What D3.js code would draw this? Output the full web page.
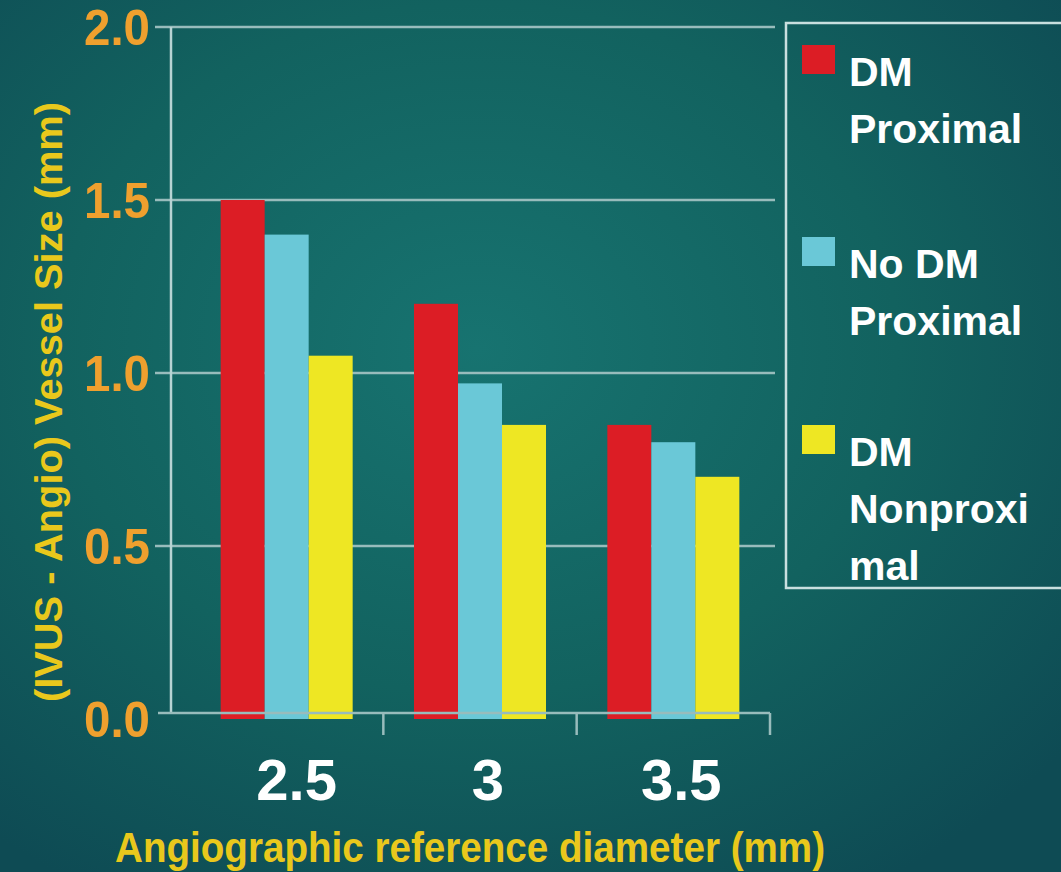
<!DOCTYPE html>
<html>
<head>
<meta charset="utf-8">
<script src="https://cdn.jsdelivr.net/npm/d3@7"></script>
<style>
  html, body { margin: 0; padding: 0; background: #0f5058; }
  svg { display: block; }
  text { font-family: "Liberation Sans", Arial, Helvetica, sans-serif; font-weight: bold; }
</style>
</head>
<body>
<svg id="chart" width="1061" height="872"></svg>
<script>
// Difference between IVUS and angiographic vessel size, by reference diameter
const categories = ["2.5", "3", "3.5"];
const seriesNames = ["DM Proximal", "No DM Proximal", "DM Nonproximal"];
const legendLines = [["DM", "Proximal"], ["No DM", "Proximal"], ["DM", "Nonproxi", "mal"]];
const dmProximal = [1.50, 1.20, 0.85];
const noDmProximal = [1.40, 0.97, 0.80];
const dmNonproximal = [1.05, 0.85, 0.70];
const yTicks = [0, 0.5, 1.0, 1.5, 2.0];
const colors = ["#dc1d25", "#6ac8d7", "#eee723"];

const series = [dmProximal, noDmProximal, dmNonproximal];
const table = categories.map((c, i) => ({ cat: c, values: series.map(s => s[i]) }));

const svg = d3.select("#chart");
const W = 1061, H = 872;

// background glow
const defs = svg.append("defs");
const grad = defs.append("radialGradient").attr("id", "bg")
  .attr("cx", "45%").attr("cy", "40%").attr("r", "72%");
grad.append("stop").attr("offset", "0%").attr("stop-color", "#177370");
grad.append("stop").attr("offset", "55%").attr("stop-color", "#12625f");
grad.append("stop").attr("offset", "100%").attr("stop-color", "#0e4b54");
svg.append("rect").attr("width", W).attr("height", H).attr("fill", "url(#bg)");

const axisLeft = 171, plotRight = 770;
const y = d3.scaleLinear().domain([0, 2]).range([719, 27]);
const x0 = d3.scaleBand().domain(categories).range([190, plotRight]).paddingInner(0).paddingOuter(0);
const x1 = d3.scaleBand().domain(d3.range(series.length)).range([0, 132]);
const groupOffset = (x0.bandwidth() - 132) / 2;

const lineColor = "#98bcbc";

// horizontal gridlines
svg.append("g").selectAll("line").data(yTicks.filter(t => t > 0)).join("line")
  .attr("x1", 155).attr("x2", 775)
  .attr("y1", d => y(d)).attr("y2", d => y(d))
  .attr("stroke", lineColor).attr("stroke-width", 2.5);

// y axis line
svg.append("line").attr("x1", axisLeft).attr("x2", axisLeft)
  .attr("y1", y(2)).attr("y2", 713)
  .attr("stroke", "#b7d3d3").attr("stroke-width", 2.5);

// bars
const groups = svg.append("g").selectAll("g").data(table).join("g")
  .attr("transform", d => `translate(${x0(d.cat) + groupOffset},0)`);
groups.selectAll("rect").data(d => d.values).join("rect")
  .attr("x", (d, i) => x1(i))
  .attr("width", x1.bandwidth())
  .attr("y", d => y(d))
  .attr("height", d => y(0) - y(d))
  .attr("fill", (d, i) => colors[i]);

// x axis line with category separators
const xAxisY = 713;
svg.append("line").attr("x1", 158).attr("x2", plotRight)
  .attr("y1", xAxisY).attr("y2", xAxisY)
  .attr("stroke", lineColor).attr("stroke-width", 2.5);
svg.append("g").selectAll("line").data(categories).join("line")
  .attr("x1", d => x0(d) + x0.bandwidth()).attr("x2", d => x0(d) + x0.bandwidth())
  .attr("y1", xAxisY).attr("y2", 735)
  .attr("stroke", lineColor).attr("stroke-width", 2.5);

// y tick labels
svg.append("g").selectAll("text").data(yTicks).join("text")
  .attr("x", 150).attr("y", d => y(d) + 5)
  .attr("text-anchor", "end").attr("dominant-baseline", "middle")
  .attr("font-size", 50).attr("fill", "#efa02e")
  .attr("textLength", 66).attr("lengthAdjust", "spacingAndGlyphs")
  .text(d => d.toFixed(1));

// x tick labels
svg.append("g").selectAll("text").data(categories).join("text")
  .attr("x", d => x0(d) + x0.bandwidth() / 2 + (d === "2.5" ? 10 : 8))
  .attr("y", 800)
  .attr("text-anchor", "middle")
  .attr("font-size", 58).attr("fill", "#ffffff")
  .text(d => d);

// axis titles
svg.append("text")
  .attr("x", 470).attr("y", 862)
  .attr("text-anchor", "middle")
  .attr("font-size", 42).attr("fill", "#e9c81c")
  .attr("textLength", 710).attr("lengthAdjust", "spacingAndGlyphs")
  .text("Angiographic reference diameter (mm)");

svg.append("text")
  .attr("transform", "translate(62,402) rotate(-90)")
  .attr("text-anchor", "middle")
  .attr("font-size", 38).attr("fill", "#e9c81c")
  .attr("textLength", 600).attr("lengthAdjust", "spacingAndGlyphs")
  .text("(IVUS - Angio) Vessel Size (mm)");

// legend
svg.append("rect").attr("x", 786).attr("y", 23).attr("width", 290).attr("height", 565)
  .attr("fill", "none").attr("stroke", "#c9dfdf").attr("stroke-width", 2.5);

const legendTop = [45, 237, 425];
const lg = svg.append("g").selectAll("g").data(seriesNames).join("g")
  .attr("transform", (d, i) => `translate(802,${legendTop[i]})`);
lg.append("rect").attr("width", 33).attr("height", 29)
  .attr("fill", (d, i) => colors[i]);
lg.each(function (d, i) {
  d3.select(this).selectAll("text").data(legendLines[i]).join("text")
    .attr("x", 47).attr("y", (t, j) => 41 + j * 57)
    .attr("font-size", 41).attr("fill", "#ffffff")
    .text(t => t);
});
</script>
</body>
</html>
